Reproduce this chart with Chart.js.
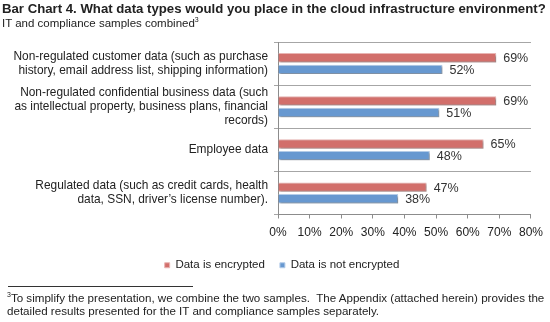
<!DOCTYPE html>
<html>
<head>
<meta charset="utf-8">
<script src="https://cdn.jsdelivr.net/npm/chart.js@4"></script>
<style>
    body { margin: 0; background: #fff; font-family: "Liberation Sans", Arial, sans-serif; color: #222; }
    #wrap { position: relative; width: 550px; height: 322px; overflow: hidden; }
    #myChart { position: absolute; left: 0; top: 0; }
    .title { position: absolute; left: 2px; top: 1px; font-size: 13.2px; font-weight: bold; white-space: nowrap; }
    .subtitle { position: absolute; left: 2px; top: 17px; font-size: 11.5px; white-space: nowrap; }
    .subtitle sup, .note sup { font-size: 7px; vertical-align: 5px; line-height: 0; }
    .rule { position: absolute; left: 8px; top: 286px; width: 185px; border-top: 1px solid #333; }
    .note { position: absolute; left: 7px; top: 291px; font-size: 11.6px; line-height: 13px; white-space: pre; }
</style>
</head>
<body>
<div id="wrap">
    <canvas id="myChart" width="550" height="322"></canvas>
    <div class="title">Bar Chart 4. What data types would you place in the cloud infrastructure environment?</div>
    <div class="subtitle">IT and compliance samples combined<sup>3</sup></div>
    <div class="rule"></div>
    <div class="note"><sup>3</sup>To simplify the presentation, we combine the two samples.  The Appendix (attached herein) provides the
detailed results presented for the IT and compliance samples separately.</div>
</div>
<script>
const categories = [
    ['Non-regulated customer data (such as purchase', 'history, email address list, shipping information)'],
    ['Non-regulated confidential business data (such', 'as intellectual property, business plans, financial', 'records)'],
    'Employee data',
    ['Regulated data (such as credit cards, health', 'data, SSN, driver\u2019s license number).']
];
const encrypted = [69, 69, 65, 47];
const notEncrypted = [52, 51, 48, 38];
const xTicks = [0, 10, 20, 30, 40, 50, 60, 70, 80];

const FONT = "'Liberation Sans', Arial, sans-serif";

// shadow under the bars, like the office chart
const barShadow = {
    id: 'barShadow',
    beforeDatasetsDraw: (chart) => {
        const ctx = chart.ctx;
        ctx.save();
        ctx.shadowColor = 'rgba(0, 0, 0, 0.35)';
        ctx.shadowOffsetX = 1.5;
        ctx.shadowOffsetY = 1.5;
        ctx.shadowBlur = 2;
    },
    afterDatasetsDraw: (chart) => {
        chart.ctx.restore();
    }
};

// percent labels at the end of each bar
const valueLabels = {
    id: 'valueLabels',
    afterDatasetsDraw: (chart) => {
        const ctx = chart.ctx;
        ctx.save();
        ctx.font = '12.5px ' + FONT;
        ctx.fillStyle = '#333';
        ctx.textBaseline = 'middle';
        chart.data.datasets.forEach((ds, i) => {
            chart.getDatasetMeta(i).data.forEach((bar, j) => {
                ctx.fillText(`${ds.data[j]}%`, bar.x + 7, bar.y + 1);
            });
        });
        ctx.restore();
    }
};

// legend sits a bit right of the page centre in the original
const shiftLegend = {
    id: 'shiftLegend',
    afterLayout: (chart) => {
        chart.legend.left += 29;
    }
};

new Chart(document.getElementById('myChart'), {
    type: 'bar',
    data: {
        labels: categories,
        datasets: [{
            label: 'Data is encrypted',
            data: encrypted,
            backgroundColor: '#D26F6B',
            borderColor: '#E9B5B3',
            borderWidth: 1,
            categoryPercentage: 0.54,
            barPercentage: 0.8,
        }, {
            label: 'Data is not encrypted',
            data: notEncrypted,
            backgroundColor: '#6798D0',
            borderColor: '#B5CDE9',
            borderWidth: 1,
            categoryPercentage: 0.54,
            barPercentage: 0.8,
        }]
    },
    options: {
        indexAxis: 'y',
        responsive: false,
        animation: false,
        layout: {
            padding: { top: 42, right: 15, bottom: 41, left: 0 }
        },
        plugins: {
            legend: {
                position: 'bottom',
                labels: {
                    font: { family: FONT, size: 11.5 },
                    color: '#222',
                    boxWidth: 5,
                    boxHeight: 5,
                    padding: 15,
                }
            },
            tooltip: { enabled: false }
        },
        scales: {
            x: {
                min: 0,
                max: 80,
                afterBuildTicks: (scale) => {
                    scale.ticks = xTicks.map(v => ({ value: v }));
                },
                afterFit: (scale) => {
                    scale.height = 30;
                },
                ticks: {
                    font: { family: FONT, size: 12 },
                    color: '#222',
                    padding: 7,
                    callback: (val) => `${val}%`
                },
                grid: {
                    drawOnChartArea: false,
                    drawTicks: true,
                    tickLength: 4,
                    color: '#8c8c8c',
                },
                border: { color: '#8c8c8c' }
            },
            y: {
                afterFit: (scale) => {
                    scale.width = 278;
                },
                ticks: {
                    autoSkip: false,
                    font: { family: FONT, size: 11.9, lineHeight: 1.15 },
                    color: '#222',
                    padding: 6,
                },
                grid: {
                    offset: true,
                    color: '#a6a6a6',
                    tickLength: 4,
                },
                border: { color: '#8c8c8c' }
            }
        }
    },
    plugins: [barShadow, valueLabels, shiftLegend]
});
</script>
</body>
</html>
